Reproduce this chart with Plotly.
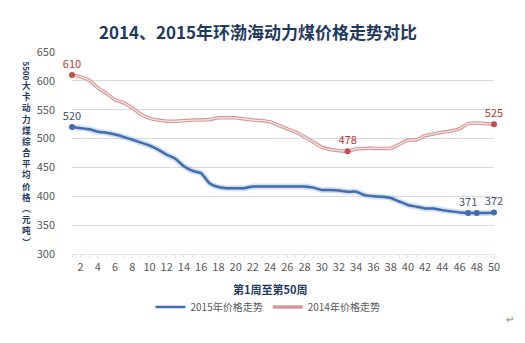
import plotly.graph_objects as go

weeks = list(range(1, 51))
price_2015 = [520, 518, 516, 512, 510, 507, 503, 498, 493, 488,
              481, 472, 465, 452, 444, 440, 422, 416, 414, 414,
              414, 417, 417, 417, 417, 417, 417, 417, 415, 411,
              411, 410, 408, 408, 402, 400, 399, 397, 391, 385,
              382, 379, 379, 376, 374, 372, 371, 371, 371, 372]
price_2014 = [610, 607, 601, 588, 578, 567, 562, 553, 542, 535,
              532, 530, 530, 531, 532, 532, 533, 536, 536, 536,
              534, 532, 531, 529, 523, 517, 511, 503, 494, 485,
              481, 479, 478, 482, 483, 483, 483, 483, 490, 497,
              498, 505, 508, 511, 513, 517, 526, 527, 526, 525]
tick_weeks = list(range(2, 51, 2))
y_ticks = [300, 350, 400, 450, 500, 550, 600, 650]
label_weeks_2015 = [1, 47, 48, 50]
label_text_2015 = ["520", "371", "", "372"]
label_weeks_2014 = [1, 33, 50]

title_text = "2014、2015年环渤海动力煤价格走势对比"
x_title = "第1周至第50周"
y_title_num = "5500"
y_title_rest = "大卡动力煤综合平均价格︵元吨︶"

NAVY = "#1F3A5F"
BLUE = "#3E6DB0"
RED = "#C0504D"

fig = go.Figure()
fig.add_trace(go.Scatter(x=weeks, y=price_2015, mode="lines", showlegend=False, hoverinfo="skip",
                         line=dict(color="rgba(62,109,176,0.22)", width=6, shape="spline", smoothing=0.4)))
fig.add_trace(go.Scatter(x=weeks, y=price_2015, mode="lines", name="2015年价格走势",
                         line=dict(color=BLUE, width=2.5, shape="spline", smoothing=0.4)))
fig.add_trace(go.Scatter(x=weeks, y=price_2014, mode="lines", name="2014年价格走势",
                         line=dict(color="#D39896", width=3.5, shape="spline", smoothing=0.4)))
fig.add_trace(go.Scatter(x=weeks, y=price_2014, mode="lines", showlegend=False, hoverinfo="skip",
                         line=dict(color="#F6E3E2", width=1.3, shape="spline", smoothing=0.4)))

fig.add_trace(go.Scatter(
    x=label_weeks_2015, y=[price_2015[w - 1] for w in label_weeks_2015],
    mode="markers+text", text=label_text_2015, textposition="top center", cliponaxis=False,
    textfont=dict(size=11, color="#44546A"), marker=dict(size=6, color=BLUE),
    showlegend=False, hoverinfo="skip"))
fig.add_trace(go.Scatter(
    x=label_weeks_2014, y=[price_2014[w - 1] for w in label_weeks_2014],
    mode="markers+text", text=[str(price_2014[w - 1]) for w in label_weeks_2014],
    textposition="top center", textfont=dict(size=11, color="#B03A36"), cliponaxis=False,
    marker=dict(size=6, color=RED), showlegend=False, hoverinfo="skip"))

L, R, T, B = 72, 31, 52, 89
W, H = 525, 343
pw, ph = W - L - R, H - T - B


def px(x):
    return (x - L) / pw


def py(y):
    return (H - B - y) / ph


annotations = [
    dict(text="<b>" + x_title + "</b>", x=px(270), y=py(289), xref="paper", yref="paper",
         showarrow=False, font=dict(size=11, color=NAVY), xanchor="center", yanchor="middle"),
    dict(text="<b>" + y_title_num + "</b>", x=px(26.5), y=py(71), xref="paper", yref="paper",
         showarrow=False, textangle=90, font=dict(size=8, color=NAVY), xanchor="center", yanchor="middle"),
    dict(text="<b>" + "<br>".join(y_title_rest) + "</b>", x=px(26.5), y=py(163), xref="paper",
         yref="paper", showarrow=False, font=dict(size=8.6, color=NAVY),
         xanchor="center", yanchor="middle"),
    dict(text="↵", x=px(510), y=py(318), xref="paper", yref="paper", showarrow=False,
         font=dict(size=10, color="#808080"), xanchor="center", yanchor="middle"),
]

fig.update_layout(
    width=W, height=H,
    margin=dict(l=L, r=R, t=T, b=B),
    paper_bgcolor="white", plot_bgcolor="white",
    font=dict(family="Noto Sans CJK SC, Noto Sans, sans-serif", size=11, color="#595959"),
    title=dict(text="<b>" + title_text + "</b>", x=258 / W, xanchor="center", xref="container",
               y=1 - 33 / H, yanchor="middle", yref="container",
               font=dict(size=17, color=NAVY)),
    xaxis=dict(range=[1, 50], tickmode="array", tickvals=tick_weeks, showgrid=False, zeroline=False,
               showline=True, linecolor="#DCE3EC", linewidth=1, ticks="outside", ticklen=3,
               tickcolor="#DCE3EC",
               minor=dict(tickmode="linear", tick0=1, dtick=1, ticks="outside", ticklen=3,
                          tickcolor="#DCE3EC"),
               tickfont=dict(size=11, color="#595959")),
    yaxis=dict(range=[300, 650], tickmode="array", tickvals=y_ticks, showgrid=True,
               gridcolor="#DADADA", zeroline=False, showline=False, ticklabelstandoff=16,
               tickfont=dict(size=11, color="#595959")),
    legend=dict(orientation="h", x=px(268), xanchor="center", y=py(307), yanchor="middle",
                font=dict(size=10, color="#595959"), bgcolor="rgba(0,0,0,0)", itemwidth=30),
    annotations=annotations,
    hovermode=False,
)

fig.write_html("out.html")
